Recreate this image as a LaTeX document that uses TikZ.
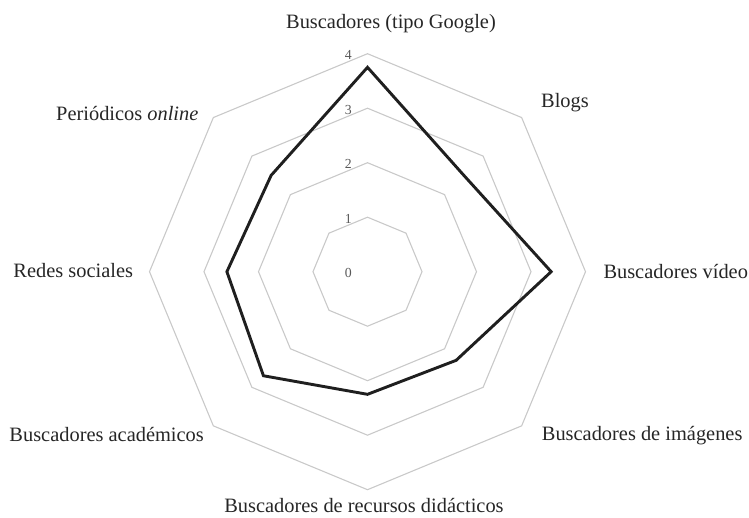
\documentclass[tikz,border=0pt]{standalone}
\usepackage{fontspec}
\setmainfont{Liberation Serif}
\usetikzlibrary{positioning}

\begin{document}
\begin{tikzpicture}[x=54.5pt, y=54.5pt]

% Styles for rings, series and labels
\tikzstyle{ring} = [draw=black!21, line width=1.1pt, line join=miter]
\tikzstyle{serie} = [draw=black!88, line width=2.9pt, line join=miter]
\tikzstyle{axislabel} = [inner sep=0pt, text=black!85, font=\fontsize{20.4}{24}\selectfont]
\tikzstyle{level} = [inner sep=0pt, text=black!65, font=\fontsize{13.8}{16}\selectfont]

\useasboundingbox (-367.5pt,-245.3pt) rectangle (381.5pt,271.7pt);

% Rings
\foreach \r in {1,...,4}
  \draw[ring] (0:\r) \foreach \a in {45,90,...,315} {-- (\a:\r)} -- cycle;

% Level numbers
\foreach \r in {0,...,4}
  \node[level] (lev\r) at ([xshift=-19.2pt,yshift=-1.5pt]90:\r) {\r};

% Data points
\coordinate (google) at (90:3.75);
\coordinate (blogs) at (45:2.5);
\coordinate (video) at (0:3.37);
\coordinate (imagenes) at (-45:2.3);
\coordinate (didacticos) at (-90:2.25);
\coordinate (academicos) at (-135:2.7);
\coordinate (redes) at (180:2.58);
\coordinate (periodicos) at (135:2.5);

% Series
\draw[serie] (google) -- (blogs) -- (video) -- (imagenes) -- (didacticos)
  -- (academicos) -- (redes) -- (periodicos) -- cycle;

% Axis labels
\node[axislabel, anchor=base] (lgoogle) at (23.5pt,243.4pt) {Buscadores (tipo Google)};
\node[axislabel, anchor=base west] (lblogs) at (173.5pt,163.7pt) {Blogs};
\node[axislabel, anchor=base west] (lvideo) at (235.8pt,-6.3pt) {Buscadores vídeo};
\node[axislabel, anchor=base west] (limagenes) at (174.2pt,-168.3pt) {Buscadores de imágenes};
\node[axislabel, anchor=base] (ldidacticos) at (-3.5pt,-240.8pt) {Buscadores de recursos didácticos};
\node[axislabel, anchor=base west] (lacademicos) at (-358.2pt,-169.3pt) {Buscadores académicos};
\node[axislabel, anchor=base west] (lredes) at (-354.2pt,-5.9pt) {Redes sociales};
\node[axislabel, anchor=base west] (lperiodicos) at (-311.5pt,151.7pt) {Periódicos \textit{online}};

\end{tikzpicture}
\end{document}
